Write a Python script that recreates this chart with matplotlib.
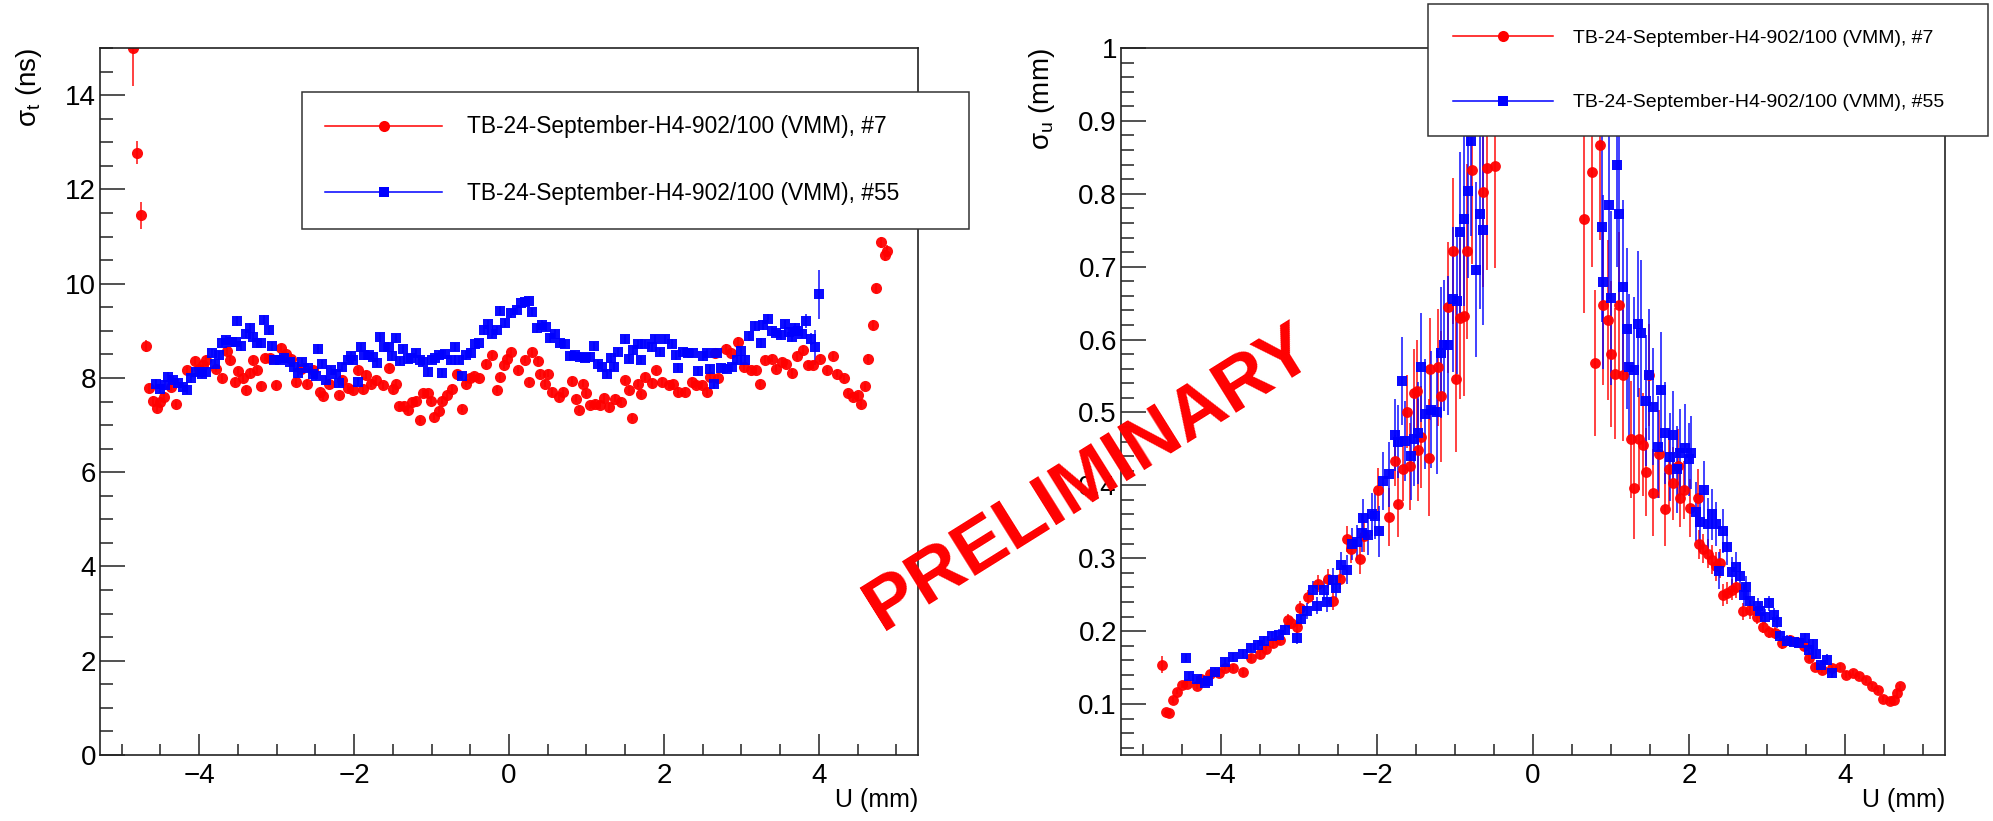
import numpy as np
import matplotlib
matplotlib.use("Agg")
import matplotlib.pyplot as plt
from matplotlib.lines import Line2D
from matplotlib.ticker import MultipleLocator, FormatStrFormatter

plt.rcParams['font.family'] = ['Liberation Sans', 'DejaVu Sans']
plt.rcParams['mathtext.fontset'] = 'custom'
plt.rcParams['mathtext.rm'] = 'Liberation Sans'
plt.rcParams['mathtext.it'] = 'Liberation Sans'

label7 = 'TB-24-September-H4-902/100 (VMM), #7'
label55 = 'TB-24-September-H4-902/100 (VMM), #55'

# ---- left panel: sigma_t vs U ----
u_t_red = [-4.85, -4.80, -4.75, -4.69, -4.65, -4.59, -4.55, -4.50, -4.45, -4.37, -4.30, -4.16, -4.06, -4.00,
           -3.95, -3.91, -3.78, -3.70, -3.64, -3.60, -3.54, -3.50, -3.43, -3.40, -3.35, -3.30, -3.26, -3.20,
           -3.15, -3.09, -3.01, -2.94, -2.88, -2.81, -2.75, -2.68, -2.61, -2.53, -2.44, -2.40, -2.32, -2.20,
           -2.15, -2.08, -2.01, -1.95, -1.89, -1.85, -1.78, -1.72, -1.63, -1.55, -1.50, -1.46, -1.42, -1.35,
           -1.30, -1.25, -1.20, -1.15, -1.11, -1.05, -1.01, -0.97, -0.90, -0.86, -0.80, -0.73, -0.67, -0.61,
           -0.56, -0.50, -0.45, -0.39, -0.30, -0.22, -0.15, -0.11, -0.07, -0.02, 0.03, 0.11, 0.21, 0.26,
           0.30, 0.37, 0.40, 0.46, 0.50, 0.55, 0.64, 0.70, 0.81, 0.86, 0.90, 0.95, 1.00, 1.04, 1.11, 1.17,
           1.23, 1.29, 1.37, 1.44, 1.50, 1.55, 1.59, 1.66, 1.70, 1.75, 1.84, 1.90, 1.97, 2.06, 2.12, 2.18,
           2.27, 2.36, 2.42, 2.49, 2.55, 2.60, 2.66, 2.70, 2.80, 2.87, 2.95, 3.04, 3.13, 3.19, 3.24, 3.31,
           3.39, 3.45, 3.52, 3.58, 3.66, 3.72, 3.80, 3.86, 3.93, 4.01, 4.10, 4.18, 4.24, 4.33, 4.38, 4.44,
           4.51, 4.55, 4.60, 4.64, 4.70, 4.74, 4.80, 4.85, 4.88]
sig_t_red = [15.00, 12.78, 11.45, 8.68, 7.78, 7.52, 7.36, 7.50, 7.60, 7.80, 7.44, 8.16, 8.36, 8.20,
             8.27, 8.39, 8.20, 8.00, 8.57, 8.38, 7.91, 8.14, 7.99, 7.74, 8.10, 8.38, 8.16, 7.83,
             8.43, 8.43, 7.85, 8.64, 8.50, 8.41, 7.91, 8.20, 7.88, 8.16, 7.70, 7.62, 7.88, 7.63,
             7.95, 7.78, 7.74, 8.16, 7.77, 8.06, 7.88, 7.95, 7.84, 8.22, 7.77, 7.88, 7.40, 7.40,
             7.31, 7.48, 7.52, 7.10, 7.67, 7.67, 7.52, 7.18, 7.30, 7.52, 7.63, 7.77, 8.09, 7.35,
             7.88, 7.99, 8.05, 8.00, 8.30, 8.48, 7.75, 8.02, 8.27, 8.41, 8.55, 8.16, 8.39, 7.91,
             8.55, 8.36, 8.09, 7.88, 8.09, 7.70, 7.60, 7.70, 7.93, 7.56, 7.33, 7.88, 7.67, 7.42, 7.45, 7.42,
             7.58, 7.38, 7.56, 7.49, 7.95, 7.74, 7.16, 7.88, 7.65, 8.02, 7.89, 8.16, 7.91, 7.84, 7.88, 7.70,
             7.70, 7.91, 7.84, 7.84, 7.70, 8.02, 8.52, 7.99, 8.62, 8.52, 8.77, 8.23, 8.16, 8.16, 7.87, 8.38,
             8.41, 8.20, 8.34, 8.30, 8.11, 8.46, 8.59, 8.27, 8.27, 8.41, 8.16, 8.46, 8.09, 7.99, 7.67, 7.60,
             7.63, 7.45, 7.82, 8.41, 9.12, 9.90, 10.88, 10.60, 10.70]
err_t_red = [0.80, 0.25, 0.28, 0.12, 0.10, 0.09, 0.08, 0.08, 0.08, 0.08, 0.08, 0.08, 0.08, 0.08,
             0.08, 0.08, 0.08, 0.08, 0.08, 0.08, 0.08, 0.08, 0.08, 0.08, 0.08, 0.08, 0.08, 0.08,
             0.08, 0.08, 0.08, 0.09, 0.08, 0.08, 0.08, 0.08, 0.08, 0.08, 0.08, 0.08, 0.08, 0.08,
             0.08, 0.08, 0.08, 0.08, 0.08, 0.08, 0.08, 0.08, 0.08, 0.08, 0.08, 0.08, 0.08, 0.08,
             0.08, 0.08, 0.08, 0.08, 0.08, 0.08, 0.08, 0.08, 0.08, 0.08, 0.08, 0.08, 0.08, 0.08,
             0.08, 0.08, 0.08, 0.08, 0.08, 0.08, 0.08, 0.08, 0.08, 0.08, 0.08, 0.08, 0.08, 0.08,
             0.08, 0.08, 0.08, 0.08, 0.08, 0.08, 0.08, 0.08, 0.08, 0.08, 0.08, 0.08, 0.08, 0.08, 0.08, 0.08,
             0.08, 0.08, 0.08, 0.08, 0.08, 0.08, 0.08, 0.08, 0.08, 0.08, 0.08, 0.08, 0.08, 0.08, 0.08, 0.08,
             0.08, 0.08, 0.08, 0.08, 0.08, 0.08, 0.08, 0.08, 0.09, 0.08, 0.09, 0.08, 0.08, 0.08, 0.08, 0.08,
             0.08, 0.08, 0.08, 0.08, 0.08, 0.08, 0.08, 0.08, 0.08, 0.08, 0.08, 0.08, 0.08, 0.08, 0.08, 0.08,
             0.08, 0.08, 0.08, 0.09, 0.10, 0.10, 0.12, 0.12, 0.12]

u_t_blue = [-4.56, -4.51, -4.44, -4.40, -4.34, -4.27, -4.21, -4.16, -4.10, -4.04, -3.97, -3.91, -3.84, -3.79,
            -3.74, -3.70, -3.65, -3.58, -3.53, -3.51, -3.46, -3.40, -3.35, -3.31, -3.26, -3.20, -3.16, -3.10,
            -3.06, -3.03, -2.96, -2.90, -2.83, -2.78, -2.73, -2.67, -2.60, -2.53, -2.49, -2.46, -2.41, -2.36,
            -2.30, -2.23, -2.20, -2.15, -2.08, -2.04, -2.01, -1.95, -1.91, -1.87, -1.81, -1.76, -1.70, -1.66,
            -1.61, -1.55, -1.51, -1.46, -1.41, -1.37, -1.31, -1.26, -1.20, -1.15, -1.11, -1.05, -1.00, -0.95,
            -0.91, -0.87, -0.82, -0.75, -0.70, -0.65, -0.61, -0.56, -0.49, -0.44, -0.39, -0.32, -0.27, -0.22,
            -0.15, -0.12, -0.05, 0.03, 0.10, 0.15, 0.21, 0.26, 0.30, 0.36, 0.42, 0.48, 0.53, 0.59, 0.66,
            0.72, 0.79, 0.85, 0.92, 0.98, 1.04, 1.10, 1.15, 1.20, 1.26, 1.32, 1.36, 1.41, 1.50, 1.55, 1.60,
            1.66, 1.70, 1.75, 1.84, 1.89, 1.95, 2.01, 2.10, 2.15, 2.18, 2.25, 2.31, 2.38, 2.44, 2.51, 2.55,
            2.59, 2.65, 2.69, 2.74, 2.81, 2.88, 2.94, 3.00, 3.05, 3.10, 3.17, 3.25, 3.28, 3.34, 3.39, 3.45,
            3.51, 3.56, 3.61, 3.65, 3.69, 3.73, 3.78, 3.84, 3.90, 3.95, 4.00]
sig_t_blue = [7.87, 7.77, 7.84, 8.03, 7.96, 7.89, 7.81, 7.75, 7.99, 8.13, 8.09, 8.13, 8.53, 8.30,
              8.48, 8.74, 8.80, 8.77, 8.77, 9.21, 8.67, 8.94, 9.07, 8.87, 8.74, 8.74, 9.24, 9.01,
              8.67, 8.38, 8.38, 8.43, 8.34, 8.23, 8.11, 8.34, 8.22, 8.09, 8.04, 8.61, 8.30, 7.95,
              8.16, 8.09, 7.89, 8.23, 8.38, 8.46, 8.38, 7.91, 8.66, 8.48, 8.48, 8.45, 8.32, 8.86,
              8.65, 8.65, 8.46, 8.84, 8.36, 8.61, 8.41, 8.43, 8.52, 8.39, 8.34, 8.13, 8.38, 8.43,
              8.48, 8.11, 8.50, 8.38, 8.66, 8.38, 8.04, 8.48, 8.53, 8.73, 8.74, 9.01, 9.14, 8.94,
              9.01, 9.43, 9.17, 9.37, 9.44, 9.60, 9.62, 9.64, 9.40, 9.05, 9.12, 9.09, 8.84, 8.94, 8.74,
              8.73, 8.46, 8.48, 8.45, 8.43, 8.45, 8.67, 8.30, 8.23, 8.09, 8.43, 8.23, 8.55, 8.82, 8.41, 8.59,
              8.72, 8.38, 8.72, 8.65, 8.82, 8.55, 8.82, 8.73, 8.48, 8.22, 8.55, 8.52, 8.53, 8.15, 8.46, 8.52,
              8.18, 7.87, 8.52, 8.22, 8.20, 8.23, 8.38, 8.57, 8.38, 8.89, 9.10, 8.74, 9.12, 9.26, 9.00, 8.96,
              8.91, 9.14, 8.98, 8.86, 9.07, 9.00, 8.94, 9.21, 8.82, 8.65, 9.78]
err_t_blue = [0.10, 0.09, 0.09, 0.09, 0.09, 0.09, 0.09, 0.09, 0.09, 0.09, 0.09, 0.09, 0.09, 0.09,
              0.09, 0.09, 0.09, 0.09, 0.09, 0.10, 0.09, 0.09, 0.10, 0.09, 0.09, 0.09, 0.10, 0.10,
              0.09, 0.09, 0.09, 0.09, 0.09, 0.09, 0.09, 0.09, 0.09, 0.09, 0.09, 0.10, 0.09, 0.09,
              0.09, 0.09, 0.09, 0.09, 0.09, 0.09, 0.09, 0.09, 0.09, 0.09, 0.09, 0.09, 0.09, 0.09,
              0.09, 0.09, 0.09, 0.09, 0.09, 0.09, 0.09, 0.09, 0.09, 0.09, 0.09, 0.09, 0.09, 0.09,
              0.09, 0.09, 0.09, 0.09, 0.09, 0.09, 0.09, 0.09, 0.09, 0.09, 0.09, 0.09, 0.09, 0.09,
              0.09, 0.10, 0.09, 0.09, 0.09, 0.09, 0.09, 0.09, 0.09, 0.09, 0.10, 0.09, 0.09, 0.09, 0.09,
              0.09, 0.09, 0.09, 0.09, 0.09, 0.09, 0.09, 0.09, 0.09, 0.09, 0.09, 0.09, 0.09, 0.09, 0.09, 0.09,
              0.09, 0.09, 0.09, 0.09, 0.09, 0.09, 0.09, 0.09, 0.09, 0.09, 0.09, 0.09, 0.09, 0.09, 0.09, 0.09,
              0.09, 0.10, 0.09, 0.09, 0.09, 0.09, 0.09, 0.09, 0.09, 0.10, 0.10, 0.10, 0.10, 0.10, 0.10, 0.10,
              0.10, 0.10, 0.10, 0.10, 0.10, 0.10, 0.10, 0.14, 0.13, 0.37, 0.52]

# ---- right panel: sigma_u vs U ----
u_u_red = [-4.76, -4.70, -4.66, -4.61, -4.56, -4.50, -4.44, -4.31, -4.26, -4.14, -4.03, -3.95, -3.84, -3.72,
           -3.61, -3.50, -3.42, -3.33, -3.24, -3.14, -3.10, -3.02, -2.99, -2.88, -2.75, -2.63, -2.56, -2.48,
           -2.38, -2.33, -2.22, -2.16, -1.99, -1.84, -1.77, -1.73, -1.67, -1.62, -1.58, -1.52, -1.49, -1.47,
           -1.43, -1.33, -1.32, -1.22, -1.18, -1.09, -1.02, -0.99, -0.94, -0.88, -0.84, -0.78, -0.64, -0.59,
           -0.49, 0.65, 0.75, 0.80, 0.86, 0.90, 0.96, 1.00, 1.05, 1.10, 1.15, 1.25, 1.30, 1.36, 1.41, 1.45,
           1.49, 1.54, 1.61, 1.69, 1.74, 1.79, 1.86, 1.89, 1.94, 2.01, 2.11, 2.13, 2.18, 2.24, 2.29, 2.35,
           2.40, 2.43, 2.48, 2.55, 2.60, 2.69, 2.78, 2.87, 2.95, 3.03, 3.10, 3.19, 3.29, 3.38, 3.47, 3.54,
           3.62, 3.71, 3.83, 3.93, 4.01, 4.10, 4.18, 4.27, 4.34, 4.42, 4.49, 4.57, 4.63, 4.67, 4.71]
sig_u_red = [0.154, 0.089, 0.087, 0.106, 0.117, 0.126, 0.127, 0.124, 0.134, 0.141, 0.142, 0.150, 0.150, 0.144,
             0.163, 0.168, 0.175, 0.184, 0.188, 0.215, 0.211, 0.206, 0.232, 0.247, 0.265, 0.272, 0.241, 0.272,
             0.326, 0.312, 0.299, 0.330, 0.394, 0.357, 0.434, 0.374, 0.423, 0.501, 0.426, 0.527, 0.529, 0.449,
             0.466, 0.438, 0.560, 0.562, 0.522, 0.644, 0.721, 0.546, 0.629, 0.632, 0.721, 0.833, 0.802, 0.835,
             0.838, 0.766, 0.830, 0.568, 0.867, 0.647, 0.627, 0.580, 0.553, 0.648, 0.551, 0.463, 0.397, 0.463, 0.456, 0.418,
             0.552, 0.390, 0.443, 0.367, 0.422, 0.403, 0.427, 0.383, 0.394, 0.369, 0.383, 0.319, 0.313, 0.306, 0.298, 0.289,
             0.293, 0.250, 0.252, 0.257, 0.260, 0.227, 0.229, 0.220, 0.206, 0.199, 0.197, 0.183, 0.188, 0.185, 0.179, 0.163,
             0.151, 0.147, 0.149, 0.151, 0.140, 0.143, 0.138, 0.133, 0.125, 0.119, 0.107, 0.104, 0.105, 0.115, 0.124]
err_u_red = [0.012, 0.004, 0.004, 0.004, 0.004, 0.004, 0.004, 0.004, 0.004, 0.005, 0.005, 0.005, 0.005, 0.005,
             0.006, 0.006, 0.006, 0.007, 0.007, 0.008, 0.008, 0.008, 0.009, 0.010, 0.012, 0.013, 0.012, 0.014,
             0.018, 0.018, 0.020, 0.022, 0.030, 0.040, 0.035, 0.045, 0.045, 0.050, 0.060, 0.060, 0.070, 0.070,
             0.070, 0.080, 0.070, 0.080, 0.090, 0.090, 0.100, 0.100, 0.110, 0.110, 0.120, 0.130, 0.130, 0.140,
             0.140, 0.130, 0.130, 0.100, 0.130, 0.110, 0.110, 0.100, 0.090, 0.100, 0.090, 0.080, 0.070, 0.070, 0.070, 0.060,
             0.070, 0.060, 0.060, 0.050, 0.050, 0.050, 0.050, 0.040, 0.040, 0.040, 0.040, 0.020, 0.020, 0.020, 0.020, 0.020,
             0.020, 0.015, 0.015, 0.015, 0.015, 0.012, 0.012, 0.010, 0.009, 0.008, 0.008, 0.007, 0.007, 0.007, 0.006, 0.006,
             0.005, 0.005, 0.005, 0.005, 0.005, 0.004, 0.004, 0.004, 0.004, 0.004, 0.004, 0.004, 0.004, 0.004, 0.004]

u_u_blue = [-4.45, -4.41, -4.31, -4.20, -4.16, -4.07, -3.95, -3.85, -3.72, -3.62, -3.52, -3.45, -3.35, -3.26,
            -3.18, -3.03, -2.97, -2.90, -2.82, -2.77, -2.68, -2.64, -2.57, -2.53, -2.46, -2.38, -2.32, -2.26,
            -2.19, -2.18, -2.11, -2.07, -2.02, -1.98, -1.92, -1.85, -1.77, -1.73, -1.68, -1.64, -1.57, -1.52,
            -1.47, -1.43, -1.38, -1.31, -1.23, -1.18, -1.14, -1.09, -1.02, -0.98, -0.93, -0.88, -0.83, -0.79,
            -0.73, -0.68, -0.64, 0.88, 0.90, 0.98, 1.00, 1.08, 1.10, 1.15, 1.20, 1.23, 1.30, 1.34, 1.39, 1.45,
            1.49, 1.54, 1.60, 1.64, 1.69, 1.75, 1.79, 1.84, 1.88, 1.95, 2.00, 2.03, 2.09, 2.14, 2.19, 2.24,
            2.29, 2.35, 2.39, 2.44, 2.49, 2.55, 2.60, 2.65, 2.70, 2.73, 2.78, 2.88, 2.91, 2.97, 3.03, 3.09,
            3.13, 3.17, 3.25, 3.34, 3.41, 3.49, 3.54, 3.59, 3.63, 3.69, 3.77, 3.83]
sig_u_blue = [0.163, 0.139, 0.134, 0.129, 0.131, 0.144, 0.158, 0.164, 0.169, 0.177, 0.181, 0.186, 0.193, 0.195,
              0.202, 0.191, 0.216, 0.227, 0.256, 0.235, 0.257, 0.240, 0.270, 0.259, 0.291, 0.284, 0.320, 0.322,
              0.334, 0.355, 0.332, 0.360, 0.358, 0.337, 0.406, 0.415, 0.469, 0.460, 0.543, 0.461, 0.440, 0.464,
              0.472, 0.562, 0.498, 0.504, 0.501, 0.582, 0.592, 0.592, 0.655, 0.653, 0.747, 0.766, 0.804, 0.872,
              0.696, 0.772, 0.750, 0.754, 0.679, 0.785, 0.657, 0.840, 0.772, 0.672, 0.615, 0.562, 0.558, 0.621, 0.609, 0.516,
              0.552, 0.508, 0.453, 0.531, 0.472, 0.439, 0.469, 0.422, 0.445, 0.451, 0.436, 0.445, 0.364, 0.349, 0.393, 0.347,
              0.360, 0.347, 0.283, 0.337, 0.316, 0.281, 0.288, 0.275, 0.250, 0.260, 0.241, 0.234, 0.228, 0.220, 0.238, 0.222,
              0.213, 0.193, 0.187, 0.185, 0.184, 0.190, 0.174, 0.182, 0.169, 0.154, 0.161, 0.143]
err_u_blue = [0.006, 0.005, 0.005, 0.005, 0.005, 0.005, 0.005, 0.006, 0.006, 0.006, 0.007, 0.007, 0.007, 0.008,
              0.008, 0.009, 0.010, 0.011, 0.013, 0.012, 0.014, 0.014, 0.016, 0.016, 0.018, 0.020, 0.022, 0.024,
              0.026, 0.026, 0.028, 0.030, 0.032, 0.035, 0.040, 0.045, 0.050, 0.050, 0.060, 0.055, 0.060, 0.065,
              0.070, 0.075, 0.075, 0.080, 0.085, 0.090, 0.090, 0.095, 0.100, 0.100, 0.110, 0.120, 0.120, 0.130,
              0.120, 0.130, 0.130, 0.130, 0.120, 0.130, 0.120, 0.140, 0.130, 0.120, 0.110, 0.100, 0.100, 0.100, 0.100, 0.090,
              0.090, 0.080, 0.070, 0.080, 0.070, 0.060, 0.060, 0.060, 0.060, 0.060, 0.050, 0.050, 0.040, 0.040, 0.040, 0.035,
              0.035, 0.030, 0.025, 0.030, 0.025, 0.020, 0.020, 0.020, 0.015, 0.015, 0.012, 0.012, 0.011, 0.010, 0.010, 0.009,
              0.009, 0.008, 0.008, 0.007, 0.007, 0.007, 0.007, 0.007, 0.007, 0.006, 0.007, 0.008]

RED = '#ff0000'
BLUE = '#0000ff'

fig = plt.figure(figsize=(19.93, 8.21), dpi=100)
ax1 = fig.add_axes([0.0502, 0.0804, 0.4104, 0.8611])
ax2 = fig.add_axes([0.5625, 0.0804, 0.4134, 0.8611])


def draw_series(ax, x, y, e, color, marker, ms):
    ax.errorbar(x, y, yerr=e, fmt=marker, color=color, ecolor=color, ms=ms, mew=0,
                elinewidth=1.1, capsize=2.2, capthick=1.1, alpha=0.95)


draw_series(ax1, u_t_red, sig_t_red, err_t_red, RED, 'o', 8.0)
draw_series(ax1, u_t_blue, sig_t_blue, err_t_blue, BLUE, 's', 7.2)
draw_series(ax2, u_u_red, sig_u_red, err_u_red, RED, 'o', 7.8)
draw_series(ax2, u_u_blue, sig_u_blue, err_u_blue, BLUE, 's', 7.0)

for ax in (ax1, ax2):
    ax.set_xlim(-5.28, 5.28)
    ax.xaxis.set_major_locator(MultipleLocator(2))
    ax.xaxis.set_minor_locator(MultipleLocator(0.5))
    for s in ax.spines.values():
        s.set_linewidth(1.2)
        s.set_color('#222222')
    ax.tick_params(axis='both', which='both', direction='in', top=False, right=False,
                   width=1.1, color='#222222', labelsize=20)
    ax.tick_params(axis='x', which='major', length=15.3, pad=6)
    ax.tick_params(axis='x', which='minor', length=7.6)
    ax.tick_params(axis='y', which='major', length=18, pad=3)
    ax.tick_params(axis='y', which='minor', length=9)
    ax.set_xlabel('U (mm)', loc='right', fontsize=18)
    ax.xaxis.set_label_coords(1.0, -0.047)

ax1.set_ylim(0, 15)
ax1.yaxis.set_major_locator(MultipleLocator(2))
ax1.yaxis.set_minor_locator(MultipleLocator(0.5))
ax1.set_ylabel('σ$_{t}$ (ns)', loc='top', fontsize=20)
ax1.yaxis.set_label_coords(-0.068, 1.0)

ax2.set_ylim(0.03, 1.0)
ax2.yaxis.set_major_locator(MultipleLocator(0.1))
ax2.yaxis.set_minor_locator(MultipleLocator(0.02))
ax2.yaxis.set_major_formatter(FormatStrFormatter('%g'))
ax2.set_ylabel('σ$_{u}$ (mm)', loc='top', fontsize=20)
ax2.yaxis.set_label_coords(-0.078, 1.0)

h7 = Line2D([], [], color=RED, marker='o', ms=8, mew=0, lw=1.1)
h55 = Line2D([], [], color=BLUE, marker='s', ms=7.2, mew=0, lw=1.1)

leg1 = ax1.legend([h7, h55], [label7, label55], loc='upper left',
                  bbox_to_anchor=(0.1515, 0.7259, 0.3347, 0.1620), bbox_transform=fig.transFigure,
                  mode='expand', borderaxespad=0, fontsize=16.4, borderpad=1.03, labelspacing=1.92,
                  handlelength=5.13, handletextpad=1.1, fancybox=False, framealpha=1,
                  edgecolor='#333333')
leg1.get_frame().set_linewidth(1.1)

leg2 = ax2.legend([h7, h55], [label7, label55], loc='upper left',
                  bbox_to_anchor=(0.7165, 0.8331, 0.2810, 0.1620), bbox_transform=fig.transFigure,
                  mode='expand', borderaxespad=0, fontsize=14, borderpad=1.29, labelspacing=2.42,
                  handlelength=5.15, handletextpad=1.03, fancybox=False, framealpha=1,
                  edgecolor='#333333')
leg2.get_frame().set_linewidth(1.1)
leg2.set_zorder(10)

fig.text(0.5465, 0.417, 'PRELIMINARY', rotation=32, rotation_mode='anchor', fontsize=54,
         fontweight='bold', color=RED, ha='center', va='center', zorder=20)

fig.savefig('out.png', dpi=100)
